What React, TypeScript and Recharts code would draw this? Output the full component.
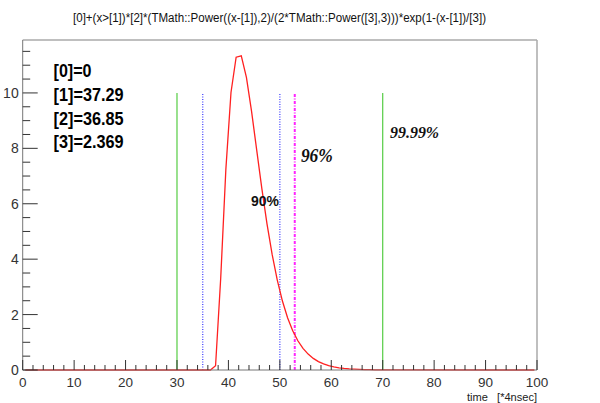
import React from 'react';
import { LineChart, Line, XAxis, YAxis, ReferenceLine, ReferenceDot } from 'recharts';

// fit samples (bin centres)
const timeBins = [
  0.5, 36.5, 37.5, 38.5, 39.5, 40.5, 41.5, 42.5, 43.5, 44.5, 45.5, 46.5, 47.5, 48.5, 49.5,
  50.5, 51.5, 52.5, 53.5, 54.5, 55.5, 56.5, 57.5, 58.5, 59.5, 60.5, 61.5, 62.5, 63.5, 64.5,
  65.5, 66.5, 67.5, 68.5, 69.5, 70.5, 71.5, 72.5, 99.5,
];
const amplitude = [
  0, 0, 0.152, 3.309, 7.238, 10.015, 11.29, 11.34, 10.56, 9.336, 7.938, 6.548, 5.274, 4.17, 3.244,
  2.489, 1.889, 1.419, 1.056, 0.781, 0.573, 0.418, 0.303, 0.219, 0.158, 0.113, 0.08, 0.057, 0.04, 0.028,
  0.02, 0.014, 0.01, 0.007, 0.005, 0.003, 0.002, 0.001, 0,
];

const xTicks = [
  0, 2, 4, 6, 8, 10, 12, 14, 16, 18, 20, 22, 24, 26, 28, 30, 32, 34, 36, 38, 40, 42, 44, 46, 48, 50,
  52, 54, 56, 58, 60, 62, 64, 66, 68, 70, 72, 74, 76, 78, 80, 82, 84, 86, 88, 90, 92, 94, 96, 98, 100,
];
const yTicks = [0, 0.5, 1, 1.5, 2, 2.5, 3, 3.5, 4, 4.5, 5, 5.5, 6, 6.5, 7, 7.5, 8, 8.5, 9, 9.5, 10, 10.5, 11, 11.5];
const yMax = 11.91;

// window markers
const greenLines = [30, 70];
const blueLines = [35, 50];
const magentaLines = [52.9];
const markerTop = 10;

const paramNames = ['[0]=0', '[1]=37.29', '[2]=36.85', '[3]=2.369'];
const paramWidths = [38, 70, 70, 70];
const paramY = [10.56, 9.71, 8.86, 8.01];
const paramX = 6.0;

const percentLabels = [
  { text: '90%', x: 47.1, y: 5.93, serif: false, size: 15, width: 28 },
  { text: '96%', x: 57.2, y: 7.49, serif: true, size: 18, width: 32 },
  { text: '99.99%', x: 76.2, y: 8.39, serif: true, size: 16, width: 49 },
];

const title = '[0]+(x>[1])*[2]*(TMath::Power((x-[1]),2)/(2*TMath::Power([3],3)))*exp(1-(x-[1])/[3])';
const xTitle = 'time\u00a0\u00a0\u00a0[*4nsec]';

const chartData = timeBins.map((t, i) => ({ time: t, amp: amplitude[i] }));

const SANS = '"Liberation Sans", Arial, sans-serif';
const SERIF = '"Liberation Serif", "Times New Roman", serif';

const XTick = (props: any) => {
  const { x, y, payload } = props;
  const major = payload.value % 10 === 0;
  return (
    <g>
      <line x1={x} y1={y} x2={x} y2={y - (major ? 10 : 5)} stroke="#333" strokeWidth={1} />
      {major && (
        <text x={x} y={y + 17} textAnchor="middle" fontSize={13.5} fontFamily={SANS} fill="#333">
          {payload.value}
        </text>
      )}
    </g>
  );
};

const YTick = (props: any) => {
  const { x, y, payload } = props;
  const major = payload.value % 2 === 0;
  return (
    <g>
      <line x1={x} y1={y} x2={x + (major ? 15 : 7.5)} y2={y} stroke="#333" strokeWidth={1} />
      {major && (
        <text x={x - 4} y={y + 5} textAnchor="end" fontSize={14} fontFamily={SANS} fill="#333">
          {payload.value}
        </text>
      )}
    </g>
  );
};

const App = () => (
  <div style={{ position: 'absolute', left: 0, top: 0, width: 600, height: 403, background: '#fff' }}>
    <svg width={600} height={30} style={{ position: 'absolute', left: 0, top: 0 }}>
      <text x={73} y={22} fontSize={12.5} fontFamily={SANS} fill="#111" textLength={413} lengthAdjust="spacingAndGlyphs">
        {title}
      </text>
    </svg>
    <div style={{ position: 'absolute', left: 0, top: 0 }}>
      <LineChart width={600} height={403} data={chartData} margin={{ top: 40, right: 63, bottom: 0, left: 0 }}>
        <XAxis
          type="number"
          dataKey="time"
          domain={[0, 100]}
          ticks={xTicks}
          interval={0}
          height={33}
          tickSize={0}
          tickMargin={0}
          tickLine={false}
          tick={(p: any) => <XTick {...p} />}
          axisLine={{ stroke: '#777' }}
          label={{
            content: (p: any) => {
              const vb = p.viewBox;
              return (
                <text x={vb.x + vb.width} y={vb.y + 30.5} textAnchor="end" fontSize={11.5} fontFamily={SANS} fill="#222" textLength={70} lengthAdjust="spacingAndGlyphs">
                  {xTitle}
                </text>
              );
            },
          }}
        />
        <YAxis
          type="number"
          domain={[0, yMax]}
          ticks={yTicks}
          interval={0}
          width={22.7}
          tickSize={0}
          tickMargin={0}
          tickLine={false}
          tick={(p: any) => <YTick {...p} />}
          axisLine={{ stroke: '#777' }}
        />
        <ReferenceLine y={yMax} stroke="#aaa" strokeWidth={1.5} />
        <ReferenceLine x={100} stroke="#aaa" strokeWidth={1.5} />
        {greenLines.map((v) => (
          <ReferenceLine key={`g${v}`} segment={[{ x: v, y: 0 }, { x: v, y: markerTop }]} stroke="#55cc44" strokeWidth={1.2} />
        ))}
        {blueLines.map((v) => (
          <ReferenceLine key={`b${v}`} segment={[{ x: v, y: 0 }, { x: v, y: markerTop }]} stroke="#5555ff" strokeWidth={1.4} strokeDasharray="1 1.5" />
        ))}
        {magentaLines.map((v) => (
          <ReferenceLine key={`m${v}`} segment={[{ x: v, y: 0 }, { x: v, y: markerTop }]} stroke="#ff22ff" strokeWidth={2} strokeDasharray="3 1.5 1 1.5" />
        ))}
        <Line type="linear" dataKey="amp" stroke="#ff2020" strokeWidth={1.3} dot={false} isAnimationActive={false} />
        {paramNames.map((name, i) => (
          <ReferenceDot
            key={name}
            x={paramX}
            y={paramY[i]}
            r={1}
            fill="none"
            stroke="none"
            label={{
              content: (p: any) => {
                const vb = p.viewBox;
                return (
                  <text x={vb.x + vb.width / 2} y={vb.y + vb.height / 2} fontSize={18} fontWeight="bold" fontFamily={SANS} fill="#000" textLength={paramWidths[i]} lengthAdjust="spacingAndGlyphs">
                    {name}
                  </text>
                );
              },
            }}
          />
        ))}
        {percentLabels.map((lab) => (
          <ReferenceDot
            key={lab.text}
            x={lab.x}
            y={lab.y}
            r={1}
            fill="none"
            stroke="none"
            label={{
              content: (p: any) => {
                const vb = p.viewBox;
                return (
                  <text
                    x={vb.x + vb.width / 2}
                    y={vb.y + vb.height / 2}
                    textAnchor="middle"
                    fontSize={lab.size}
                    fontWeight="bold"
                    fontStyle={lab.serif ? 'italic' : 'normal'}
                    fontFamily={lab.serif ? SERIF : SANS}
                    fill="#111"
                    textLength={lab.width}
                    lengthAdjust="spacingAndGlyphs"
                  >
                    {lab.text}
                  </text>
                );
              },
            }}
          />
        ))}
      </LineChart>
    </div>
  </div>
);

export default App;
